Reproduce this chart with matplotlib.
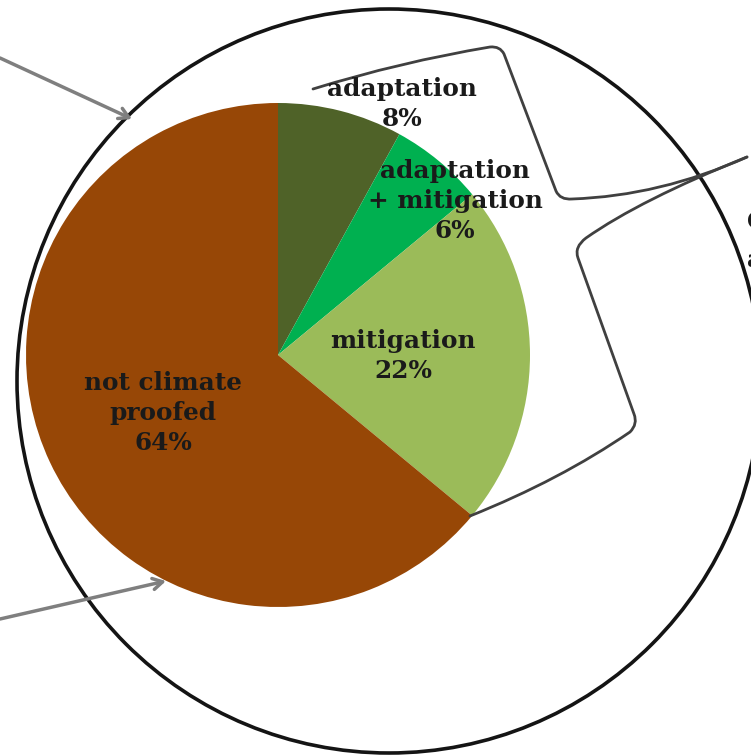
import matplotlib
matplotlib.use("Agg")
import matplotlib.pyplot as plt
from matplotlib.path import Path
from matplotlib.patches import PathPatch, Circle, FancyArrowPatch

categories = ["adaptation", "adaptation\n+ mitigation", "mitigation", "not climate\nproofed"]
values = [8, 6, 22, 64]
colors = ["#4F6228", "#00B050", "#9BBB59", "#974706"]

W, H = 751, 755
fig = plt.figure(figsize=(W / 100, H / 100), dpi=100)
ax = fig.add_axes([0, 0, 1, 1])

def P(x, y):
    return (x, H - y)

cx, cy = P(278, 355)
ax.pie(values, colors=colors, startangle=90, counterclock=False,
       center=(cx, cy), radius=252, frame=True,
       wedgeprops=dict(linewidth=0))

ax.set_xlim(0, W)
ax.set_ylim(0, H)
ax.set_aspect("equal")
ax.axis("off")

# big outline circle
ax.add_patch(Circle(P(389, 381), 372, fill=False, edgecolor="#141414", linewidth=2.6, zorder=3))

# labels
font = dict(family="DejaVu Serif", fontweight="bold", fontsize=17.8, color="#1a1a1a",
            ha="center", va="center", linespacing=1.3, zorder=5)
label_pos = [(402, 104), (455, 201), (403, 356), (163, 413)]
for cat, v, (x, y) in zip(categories, values, label_pos):
    ax.text(*P(x, y), f"{cat}\n{v}%", **font)

# partial text at right edge
ax.text(*P(747, 222), "C", family="DejaVu Serif", fontweight="bold", fontsize=17.8,
        color="#1a1a1a", ha="left", va="center")
ax.text(*P(747, 260), "a", family="DejaVu Serif", fontweight="bold", fontsize=17.8,
        color="#1a1a1a", ha="left", va="center")

# arrows
for (x0, y0), (x1, y1) in [((0, 58), (132, 119)), ((0, 619), (166, 581))]:
    ax.add_patch(FancyArrowPatch(P(x0, y0), P(x1, y1), arrowstyle="->,head_length=7,head_width=4",
                                 color="#7F7F7F", linewidth=2.5, zorder=4, shrinkA=0, shrinkB=0))

# brace lines
M, C3, L = Path.MOVETO, Path.CURVE3, Path.LINETO
brace1 = [
    (M, (313, 89)), (C3, (400, 62)), (C3, (490, 47)),
    (C3, (500, 46)), (C3, (504, 54)),
    (L, (556, 191)),
    (C3, (560, 200)), (C3, (572, 199)),
    (C3, (660, 196)), (C3, (747, 157)),
]
brace2 = [
    (M, (747, 157)), (C3, (640, 200)), (C3, (586, 238)),
    (C3, (574, 247)), (C3, (578, 258)),
    (L, (634, 414)),
    (C3, (638, 424)), (C3, (630, 432)),
    (C3, (560, 480)), (C3, (470, 516)),
]
for br in [brace1, brace2]:
    codes = [c for c, _ in br]
    verts = [P(*p) for _, p in br]
    ax.add_patch(PathPatch(Path(verts, codes), fill=False, edgecolor="#404040",
                           linewidth=2.0, zorder=4, capstyle="round", joinstyle="round"))

fig.savefig("out.png", dpi=100)
